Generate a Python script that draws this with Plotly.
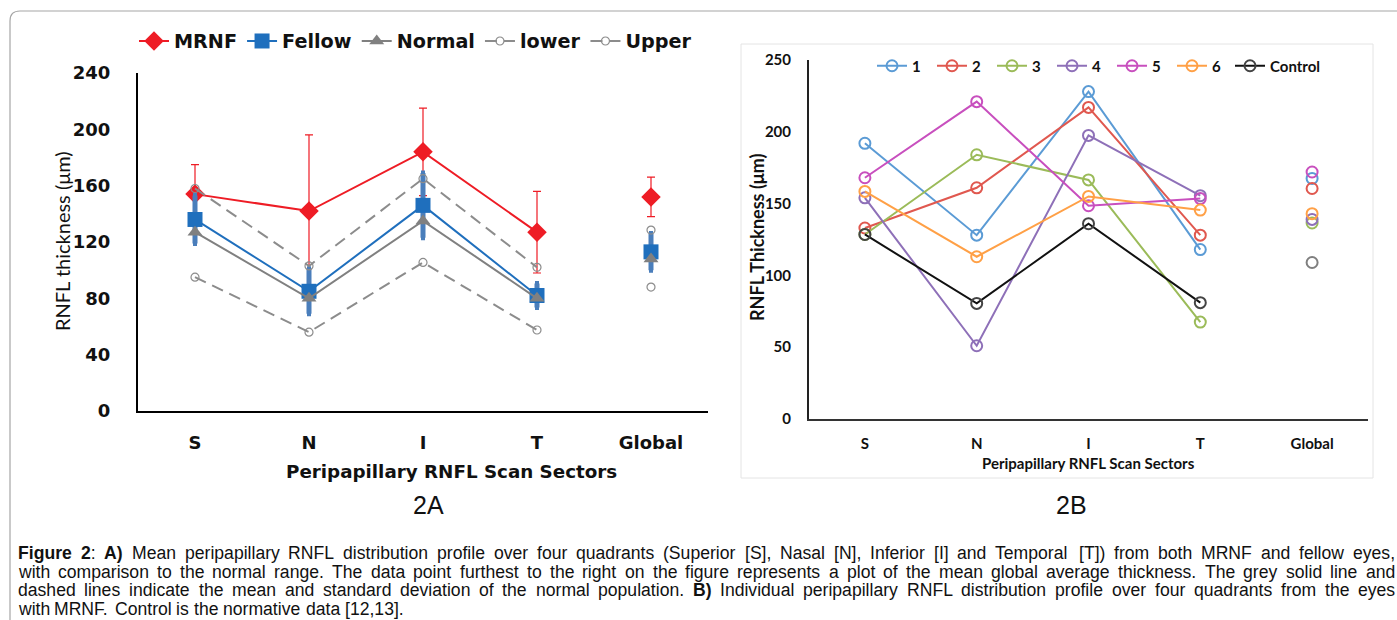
import plotly.graph_objects as go

W, H = 1397, 620


def px(x):
    return x / W


def py(y):
    return 1 - y / H


# ---------------- data ----------------
categories = ["S", "N", "I", "T", "Global"]

# Figure 2A (means and SD)
mrnf = [154, 142, 184, 127, 152]
mrnf_sd = [21, 54, 31, 29, 14]
fellow = [136, 85, 146, 82, 113]
fellow_sd = [17, 16, 23, 8.5, 13]
normal = [127, 80, 135, 80, 108]
lower = [95, 56, 105.5, 57.5, 88]
upper = [158, 103, 165, 102, 128.5]

# Figure 2B (individual eyes)
case_names = ["1", "2", "3", "4", "5", "6", "Control"]
case1 = [192, 128, 228, 118, 167.5]
case2 = [133, 161, 217, 128, 160.5]
case3 = [128.5, 184, 166.5, 67.5, 136.5]
case4 = [154, 51, 197.5, 155.5, 139]
case5 = [168, 221, 148.5, 153.5, 172]
case6 = [158.5, 113, 155, 145.5, 143]
control = [128.5, 80.5, 136, 81, 109]

# ---------------- styles ----------------
RED = "#ee1c25"
BLUE = "#1f6fbd"
BLUE_ERR = "#4a7ebb"
GREY = "#808080"
DASH_GREY = "#8c8c8c"
case_colors = ["#5b9bd5", "#e0584f", "#9bbb59", "#8e70b8", "#c84fbe", "#ffa046", "#111111"]
case_marker_colors = ["#5b9bd5", "#e0584f", "#9bbb59", "#8e70b8", "#c84fbe", "#ffa046", "#444444"]
case_global_colors = ["#5b9bd5", "#e0584f", "#9bbb59", "#8e70b8", "#c84fbe", "#ffa046", "#7f7f7f"]
case_legends = ["legend2"] * 6 + ["legend3"]

fig = go.Figure()

quad = categories[:4]
glob = categories[4:]


def add_left(name, vals, color, symbol, size, dash=None, err=None, err_style=None,
             mline=None, lw=2):
    line = dict(color=color, width=lw)
    if dash:
        line["dash"] = dash
    marker = dict(symbol=symbol, size=size, color=color)
    if mline:
        marker["line"] = mline
    e1 = e2 = None
    if err is not None:
        e1 = dict(type="data", array=err[:4], **err_style)
        e2 = dict(type="data", array=err[4:], **err_style)
    fig.add_trace(go.Scatter(x=quad, y=vals[:4], mode="lines+markers", name=name,
                             line=line, marker=marker, error_y=e1,
                             xaxis="x", yaxis="y", legend="legend"))
    fig.add_trace(go.Scatter(x=glob, y=vals[4:], mode="markers", name=name,
                             marker=marker, error_y=e2, showlegend=False,
                             xaxis="x", yaxis="y"))


add_left("MRNF", mrnf, RED, "diamond", 15, err=mrnf_sd,
         err_style=dict(color=RED, thickness=1.2, width=4))
add_left("Fellow", fellow, BLUE, "square", 15, err=fellow_sd,
         err_style=dict(color=BLUE_ERR, thickness=5, width=2))
add_left("Normal", normal, GREY, "triangle-up", 13)
add_left("lower", lower, DASH_GREY, "circle-open", 8, dash="12px,7px",
         mline=dict(width=1.2, color=DASH_GREY), lw=2)
add_left("Upper", upper, DASH_GREY, "circle-open", 8, dash="12px,7px",
         mline=dict(width=1.2, color=DASH_GREY), lw=2)

cases = [case1, case2, case3, case4, case5, case6, control]
for name, vals, c, mc, gc, lg in zip(case_names, cases, case_colors, case_marker_colors,
                                     case_global_colors, case_legends):
    fig.add_trace(go.Scatter(x=quad, y=vals[:4], mode="lines+markers", name=name,
                             line=dict(color=c, width=2),
                             marker=dict(symbol="circle-open", size=11,
                                         color=mc, line=dict(width=2, color=mc)),
                             xaxis="x2", yaxis="y2", legend=lg))
    fig.add_trace(go.Scatter(x=glob, y=vals[4:], mode="markers", name=name,
                             marker=dict(symbol="circle-open", size=11,
                                         color=gc, line=dict(width=2, color=gc)),
                             showlegend=False, xaxis="x2", yaxis="y2"))

# ---------------- axes ----------------
BOLD_DV = dict(family="DejaVu Sans", size=18, color="#111111", weight="bold")
BOLD_LATO = dict(family="Lato", size=15, color="#111111", weight="bold")

fig.update_layout(
    xaxis=dict(domain=[px(138), px(708)], type="category", categoryorder="array",
               categoryarray=categories, range=[-0.5, 4.5], anchor="y",
               showline=True, linecolor="#000000", linewidth=2,
               ticks="outside", ticklen=14, tickcolor="rgba(0,0,0,0)",
               tickfont=BOLD_DV, showgrid=False, zeroline=False, automargin=False),
    yaxis=dict(domain=[py(411), py(73)], range=[0, 240], tickvals=[0, 40, 80, 120, 160, 200, 240],
               anchor="x", showline=True, linecolor="#000000", linewidth=2,
               ticks="outside", ticklen=22, tickcolor="rgba(0,0,0,0)",
               tickfont=BOLD_DV, showgrid=False, zeroline=False, automargin=False),
    xaxis2=dict(domain=[px(809), px(1368)], type="category", categoryorder="array",
                categoryarray=categories, range=[-0.5, 4.5], anchor="y2",
                showline=True, linecolor="#333333", linewidth=2,
                ticks="outside", ticklen=10, tickcolor="rgba(0,0,0,0)",
                tickfont=BOLD_LATO, showgrid=False, zeroline=False, automargin=False),
    yaxis2=dict(domain=[py(419), py(60)], range=[0, 250], tickvals=[0, 50, 100, 150, 200, 250],
                anchor="x2", showline=True, linecolor="#222222", linewidth=2,
                ticks="outside", ticklen=13, tickcolor="rgba(0,0,0,0)",
                tickfont=BOLD_LATO, showgrid=False, zeroline=False, automargin=False),
)

fig.update_layout(
    width=W, height=H, margin=dict(l=0, r=0, t=0, b=0, pad=0, autoexpand=False),
    paper_bgcolor="white", plot_bgcolor="white",
    showlegend=True,
    legend=dict(orientation="h", x=px(134), xanchor="left", y=py(41), yanchor="middle",
                font=dict(family="DejaVu Sans", size=19.2, color="#111111", weight="bold"),
                bgcolor="rgba(0,0,0,0)", itemwidth=30, tracegroupgap=0),
    legend2=dict(orientation="h", x=px(872), xanchor="left", y=py(66), yanchor="middle",
                 font=dict(family="Lato", size=15, color="#111111", weight="bold"),
                 bgcolor="rgba(0,0,0,0)", itemwidth=30, entrywidth=15,
                 entrywidthmode="pixels"),
    legend3=dict(orientation="h", x=px(1230), xanchor="left", y=py(66), yanchor="middle",
                 font=dict(family="Lato", size=15, color="#111111", weight="bold"),
                 bgcolor="rgba(0,0,0,0)", itemwidth=30),
)

# ---------------- frames ----------------
fig.add_shape(type="path", xref="paper", yref="paper",
              path=f"M {px(10)},{py(660)} L {px(10)},{py(21)} Q {px(10)},{py(11)} {px(20)},{py(11)} L {px(1420)},{py(11)}",
              line=dict(color="#a6a6a6", width=1.2))
fig.add_shape(type="rect", xref="paper", yref="paper",
              x0=px(741), x1=px(1373), y0=py(478), y1=py(44),
              line=dict(color="#e4e4e4", width=1))

# ---------------- titles ----------------
ann = []
ann.append(dict(text="RNFL thickness (μm)", x=px(62), y=py(241), textangle=-90,
                font=dict(family="Lato", size=20, color="#111111")))
ann.append(dict(text="Peripapillary RNFL Scan Sectors", x=px(452), y=py(472),
                font=dict(family="DejaVu Sans", size=18.3, color="#111111", weight="bold")))
ann.append(dict(text="RNFL Thickness (μm)", x=px(757), y=py(238), textangle=-90,
                font=dict(family="Lato", size=18, color="#111111", weight="bold")))
ann.append(dict(text="Peripapillary RNFL Scan Sectors", x=px(1088), y=py(463),
                font=dict(family="Lato", size=15, color="#111111", weight="bold")))
ann.append(dict(text="2A", x=px(428), y=py(505),
                font=dict(family="Liberation Sans Narrow, Liberation Sans", size=25, color="#111111")))
ann.append(dict(text="2B", x=px(1071), y=py(505),
                font=dict(family="Liberation Sans Narrow, Liberation Sans", size=25, color="#111111")))
for a in ann:
    a.update(xref="paper", yref="paper", showarrow=False, xanchor="center", yanchor="middle")

# ---------------- caption (justified word placement) ----------------
REG = {" ": 278, "(": 333, ")": 333, ",": 278, ".": 278, ":": 278, "[": 278, "]": 278,
       "0": 556, "1": 556, "2": 556, "3": 556, "4": 556, "5": 556, "6": 556, "7": 556, "8": 556, "9": 556,
       "A": 667, "B": 667, "C": 722, "D": 722, "E": 667, "F": 611, "G": 778, "H": 722, "I": 278,
       "J": 500, "K": 667, "L": 556, "M": 833, "N": 722, "O": 778, "P": 667, "Q": 778, "R": 722,
       "S": 667, "T": 611, "U": 722, "V": 667, "W": 944, "X": 667, "Y": 667, "Z": 611,
       "a": 556, "b": 556, "c": 500, "d": 556, "e": 556, "f": 278, "g": 556, "h": 556, "i": 222,
       "j": 222, "k": 500, "l": 222, "m": 833, "n": 556, "o": 556, "p": 556, "q": 556, "r": 333,
       "s": 500, "t": 278, "u": 556, "v": 500, "w": 722, "x": 500, "y": 500, "z": 500}
BOLD = dict(REG)
BOLD.update({"A": 722, "B": 722, "F": 611, "g": 611, "i": 278, "u": 611, "r": 389, "e": 556,
             ")": 333, ":": 333, "2": 556})

caption_lines = [
    "*Figure* *2*: *A)* Mean peripapillary RNFL distribution profile over four quadrants (Superior [S], Nasal [N], Inferior [I] and Temporal [T]) from both MRNF and fellow eyes,",
    "with comparison to the normal range. The data point furthest to the right on the figure represents a plot of the mean global average thickness. The grey solid line and",
    "dashed lines indicate the mean and standard deviation of the normal population. *B)* Individual peripapillary RNFL distribution profile over four quadrants from the eyes",
    "with MRNF. Control is the normative data [12,13].",
]
CAP_SIZE = 17.6
CAP_LEFT, CAP_RIGHT = 16, 1393
CAP_Y0, CAP_DY = 553, 18.7


def word_info(word):
    parts = word.split("*")
    html, width = "", 0.0
    for k, part in enumerate(parts):
        bold = (k % 2 == 1)
        table = BOLD if bold else REG
        width += sum(table.get(ch, 556) for ch in part) / 1000 * CAP_SIZE
        html += f"<b>{part}</b>" if (bold and part) else part
    return html, width


for li, line in enumerate(caption_lines):
    words = line.split(" ")
    infos = [word_info(w) for w in words]
    total = sum(w for _, w in infos)
    space = REG[" "] / 1000 * CAP_SIZE
    justify = li < len(caption_lines) - 1
    gap = (CAP_RIGHT - CAP_LEFT - total) / (len(words) - 1) if justify else space
    x = CAP_LEFT
    for html, wdt in infos:
        ann.append(dict(text=html, x=px(x), y=py(CAP_Y0 + li * CAP_DY), xref="paper", yref="paper",
                        showarrow=False, xanchor="left", yanchor="middle",
                        font=dict(family="Liberation Sans, Arial", size=CAP_SIZE, color="#111111")))
        x += wdt + gap

fig.update_layout(annotations=ann)

fig.write_html(
    "out.html",
    config={"displayModeBar": False},
    post_script="document.body.style.margin='0';document.body.style.overflow='hidden';",
)
